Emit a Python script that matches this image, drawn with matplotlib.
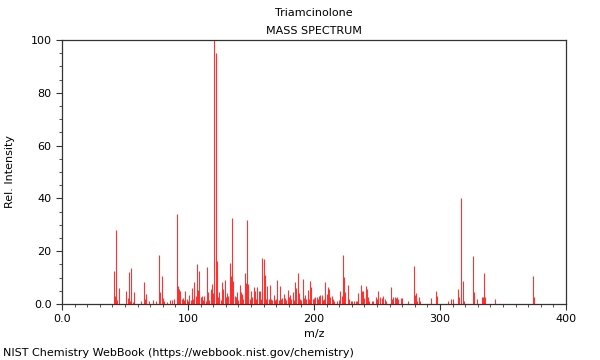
import numpy as np
import matplotlib
matplotlib.use("Agg")
import matplotlib.pyplot as plt
from matplotlib.ticker import MultipleLocator, FixedLocator


TITLE = "Triamcinolone"
SUBTITLE = "MASS SPECTRUM"
X_LABEL = "m/z"
Y_LABEL = "Rel. Intensity"
FOOTER = "NIST Chemistry WebBook (https://webbook.nist.gov/chemistry)"

X_TICKS = [0, 100, 200, 300, 400]
X_TICK_LABELS = ["0.0", "100", "200", "300", "400"]
Y_TICKS = [0, 20, 40, 60, 80, 100]
Y_TICK_LABELS = ["0.0", "20", "40", "60", "80", "100"]

# peaks, 10 per row
MZ = [
    41, 42, 43, 44, 45, 51, 52, 53, 54, 55,
    56, 57, 63, 65, 66, 67, 69, 72, 75, 77,
    78, 79, 80, 81, 83, 86, 87, 89, 91, 92,
    93, 94, 95, 96, 97, 98, 99, 100, 101, 102,
    103, 104, 105, 106, 107, 108, 109, 110, 111, 112,
    113, 114, 115, 116, 117, 118, 119, 120, 121, 122,
    123, 124, 125, 126, 127, 128, 129, 130, 131, 132,
    133, 134, 135, 136, 137, 138, 139, 140, 141, 142,
    143, 144, 145, 146, 147, 148, 149, 150, 151, 152,
    153, 154, 155, 156, 157, 158, 159, 160, 161, 162,
    163, 164, 165, 166, 167, 168, 169, 170, 171, 172,
    173, 174, 175, 176, 177, 178, 179, 180, 181, 182,
    183, 184, 185, 186, 187, 188, 189, 190, 191, 192,
    193, 194, 195, 196, 197, 198, 199, 200, 201, 202,
    203, 204, 205, 206, 207, 208, 209, 210, 211, 212,
    213, 214, 215, 216, 218, 220, 221, 222, 223, 224,
    225, 227, 228, 229, 230, 232, 233, 234, 235, 237,
    238, 239, 240, 241, 242, 243, 244, 246, 247, 249,
    250, 251, 252, 254, 255, 256, 257, 261, 262, 263,
    264, 265, 266, 267, 269, 270, 275, 279, 280, 281,
    282, 283, 284, 293, 297, 298, 306, 309, 310, 314,
    315, 317, 318, 319, 326, 327, 329, 333, 334, 335,
    336, 344, 374, 375,
]
INTENSITY = [
    12.6, 3.2, 28.0, 1.5, 6.0, 5.0, 2.3, 12.0, 1.0, 13.5,
    0.7, 4.4, 1.3, 8.5, 2.0, 3.8, 1.0, 1.5, 1.3, 18.6,
    4.4, 10.5, 2.3, 1.0, 0.6, 1.6, 1.6, 1.9, 34.0, 6.8,
    5.5, 5.0, 2.0, 2.3, 1.5, 5.0, 2.0, 1.0, 3.5, 1.5,
    6.0, 2.0, 8.5, 3.0, 15.0, 5.3, 12.5, 2.8, 3.0, 1.6,
    3.2, 1.0, 13.9, 4.4, 1.6, 5.7, 7.6, 4.0, 100.0, 95.0,
    16.4, 2.8, 4.4, 1.5, 8.5, 5.7, 9.0, 2.5, 4.0, 3.0,
    15.5, 10.6, 32.6, 8.8, 3.2, 2.5, 4.4, 1.5, 7.2, 4.4,
    3.8, 2.0, 11.6, 7.8, 32.0, 7.6, 1.9, 5.0, 2.5, 6.6,
    5.0, 1.9, 6.6, 4.8, 4.8, 2.0, 17.4, 17.0, 11.0, 2.0,
    7.0, 2.0, 7.3, 2.0, 1.5, 3.4, 1.5, 2.0, 9.0, 1.5,
    6.7, 2.0, 2.3, 3.8, 2.3, 1.5, 5.3, 2.5, 3.5, 2.0,
    4.4, 1.5, 8.5, 6.0, 11.7, 4.0, 2.0, 1.5, 9.5, 2.3,
    3.5, 2.0, 5.3, 2.0, 8.8, 6.6, 2.0, 2.3, 2.5, 2.8,
    1.9, 3.2, 3.5, 3.5, 1.5, 2.0, 8.5, 3.8, 6.6, 5.7,
    2.8, 3.2, 2.0, 1.3, 1.3, 1.5, 4.8, 3.2, 18.6, 10.4,
    4.4, 7.3, 1.9, 1.3, 1.0, 1.0, 1.3, 1.3, 4.0, 7.3,
    5.0, 5.0, 2.3, 7.0, 5.7, 2.5, 1.0, 1.3, 1.3, 2.8,
    1.9, 5.0, 2.5, 2.3, 3.2, 1.9, 1.3, 6.6, 1.9, 2.5,
    2.8, 2.3, 2.5, 1.9, 2.3, 2.3, 1.0, 14.3, 3.5, 4.0,
    1.3, 2.8, 1.0, 2.3, 4.8, 3.2, 1.0, 2.0, 2.0, 5.7,
    2.5, 40.0, 8.8, 1.3, 18.0, 4.4, 2.0, 2.5, 2.5, 11.6,
    2.5, 1.8, 10.7, 2.5,
]

fig = plt.figure(figsize=(6, 3.6), dpi=100)
ax = fig.add_axes([0.1033, 0.1556, 0.84, 0.7333])

ax.vlines(MZ, 0, INTENSITY, colors="#ff0000", linewidth=0.8, alpha=0.8)

ax.set_xlim(0, 400)
ax.set_ylim(0, 100)
ax.xaxis.set_major_locator(FixedLocator(X_TICKS))
ax.set_xticklabels(X_TICK_LABELS)
ax.yaxis.set_major_locator(FixedLocator(Y_TICKS))
ax.set_yticklabels(Y_TICK_LABELS)
ax.xaxis.set_minor_locator(MultipleLocator(10))
ax.yaxis.set_minor_locator(MultipleLocator(5))
ax.tick_params(which="major", length=4, width=0.8, labelsize=8, color="#333333")
ax.tick_params(which="minor", length=2, width=0.6, color="#333333")
for s in ax.spines.values():
    s.set_color("#333333")
    s.set_linewidth(0.9)

ax.set_xlabel(X_LABEL, fontsize=8, labelpad=3)
ax.set_ylabel(Y_LABEL, fontsize=8, labelpad=11)

fig.text(0.523, 0.963, TITLE, ha="center", va="center", fontsize=8)
fig.text(0.523, 0.915, SUBTITLE, ha="center", va="center", fontsize=8)
fig.text(0.005, 0.02, FOOTER, ha="left", va="center", fontsize=8)

fig.savefig("out.png", dpi=100)
